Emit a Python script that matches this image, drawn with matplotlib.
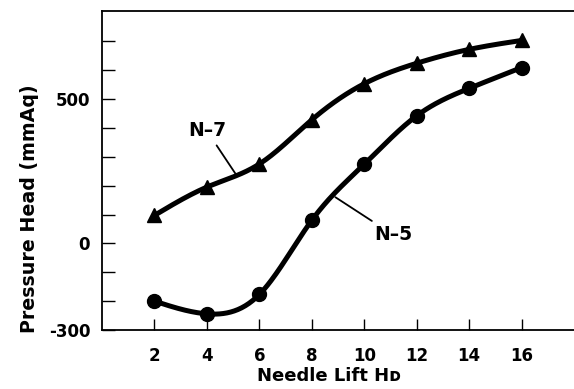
import numpy as np
import matplotlib
matplotlib.use("Agg")
import matplotlib.pyplot as plt

# needle lift values
lift = [2, 4, 6, 8, 10, 12, 14, 16]
# pressure head (mmAq) for the two nozzles
n7_head = [97, 195, 275, 428, 553, 624, 672, 703]
n5_head = [-200, -244, -177, 80, 274, 442, 537, 609]

x_ticks = [2, 4, 6, 8, 10, 12, 14, 16]
y_ticks = [-300, 0, 500]
y_minor = [-200, -100, 100, 200, 300, 400, 600, 700]


def smooth(x, y, n=300):
    # natural cubic spline through the measured points, only for drawing the line
    x = np.asarray(x, float)
    y = np.asarray(y, float)
    k = len(x)
    h = np.diff(x)
    A = np.zeros((k, k))
    b = np.zeros(k)
    A[0, 0] = A[-1, -1] = 1
    for i in range(1, k - 1):
        A[i, i - 1] = h[i - 1]
        A[i, i] = 2 * (h[i - 1] + h[i])
        A[i, i + 1] = h[i]
        b[i] = 3 * ((y[i + 1] - y[i]) / h[i] - (y[i] - y[i - 1]) / h[i - 1])
    c = np.linalg.solve(A, b)
    xs = np.linspace(x[0], x[-1], n)
    idx = np.clip(np.searchsorted(x, xs) - 1, 0, k - 2)
    dx = xs - x[idx]
    bb = (y[idx + 1] - y[idx]) / h[idx] - h[idx] * (2 * c[idx] + c[idx + 1]) / 3
    dd = (c[idx + 1] - c[idx]) / (3 * h[idx])
    return xs, y[idx] + bb * dx + c[idx] * dx ** 2 + dd * dx ** 3


plt.rcParams['font.family'] = ['DejaVu Sans']
plt.rcParams['font.weight'] = 'bold'
plt.rcParams['axes.unicode_minus'] = False

fig = plt.figure(figsize=(5.74, 3.89), dpi=100)
ax = fig.add_axes([0.1777, 0.1517, 0.8223, 0.82])

for vals, mk, ms in [(n7_head, '^', 9.5), (n5_head, 'o', 10)]:
    xs, ys = smooth(lift, vals)
    ax.plot(xs, ys, color='black', lw=3.6, solid_capstyle='round')
    ax.plot(lift, vals, ls='none', marker=mk, ms=ms, color='black')

ax.set_xlim(0, 18)
ax.set_ylim(-300, 805)
ax.set_xticks(x_ticks)
ax.set_yticks(y_ticks)
ax.set_yticks(y_minor, minor=True)
ax.spines['right'].set_visible(False)
for s in ['left', 'top', 'bottom']:
    ax.spines[s].set_linewidth(1.3)
ax.tick_params(axis='x', direction='in', length=8, width=1, pad=12, labelsize=12)
ax.tick_params(axis='y', which='both', direction='in', length=9.5, width=1, pad=8.5, labelsize=12)

ax.set_xlabel('Needle Lift H\u1d05', fontsize=13, fontweight='bold')
ax.xaxis.set_label_coords(0.481, -0.116)
ax.set_ylabel('Pressure Head (mmAq)', fontsize=13.7, fontweight='bold')
ax.yaxis.set_label_coords(-0.133, 0.38)

ax.annotate('N\u20137', xy=(5.1, 240), xytext=(4.0, 390), fontsize=13.5,
            fontweight='bold', ha='center', va='center',
            arrowprops=dict(arrowstyle='-', color='black', lw=1.3, shrinkA=2, shrinkB=0))
ax.annotate('N\u20135', xy=(8.9, 160), xytext=(11.1, 30), fontsize=13.5,
            fontweight='bold', ha='center', va='center',
            arrowprops=dict(arrowstyle='-', color='black', lw=1.3, shrinkA=2, shrinkB=0))

fig.savefig('out.png', dpi=100)
